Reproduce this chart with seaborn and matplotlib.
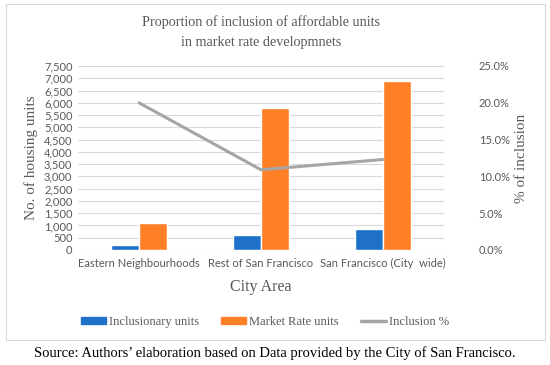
import matplotlib
matplotlib.use("Agg")
import matplotlib.pyplot as plt
import matplotlib.ticker as mticker
from matplotlib.patches import Rectangle
import pandas as pd
import seaborn as sns

areas = ["Eastern Neighbourhoods", "Rest of San Francisco", "San Francisco (City  wide)"]
inclusionary_units = [210, 630, 840]
market_rate_units = [1090, 5800, 6900]
inclusion_pct = [20.0, 10.9, 12.3]


def main():
    sns.set_theme(style="white")
    serif = "Liberation Serif"
    sans = "Lato"
    tick_col = "#595959"

    df = pd.DataFrame({
        "area": areas * 2,
        "units": inclusionary_units + market_rate_units,
        "series": ["Inclusionary units"] * 3 + ["Market Rate units"] * 3,
    })
    pct = pd.DataFrame({"area": areas, "pct": inclusion_pct})

    fig = plt.figure(figsize=(5.5, 3.65), dpi=100)
    ax = fig.add_axes([78 / 550, 1 - 250 / 365, 366 / 550, 184 / 365])

    sns.barplot(data=df, x="area", y="units", hue="series", ax=ax,
                palette=["#1F70C8", "#FF7F27"], width=0.46, saturation=1,
                legend=False)
    ax.set_ylim(0, 7500)
    ax.set_xlim(-0.5, 2.5)
    ax.yaxis.set_major_locator(mticker.MultipleLocator(500))
    ax.yaxis.set_major_formatter(mticker.FuncFormatter(lambda v, p: f"{v:,.0f}"))
    ax.grid(axis="y", color="#D9D9D9", lw=0.8)
    ax.set_axisbelow(True)
    for s in ax.spines.values():
        s.set_visible(False)
    ax.tick_params(axis="y", length=0, labelsize=8, colors=tick_col, pad=4)
    ax.tick_params(axis="x", length=0, labelsize=8, colors=tick_col, pad=6)
    for lab in ax.get_xticklabels() + ax.get_yticklabels():
        lab.set_family(sans)
    ax.set_xlabel("City Area", family=serif, fontsize=11.5, color=tick_col, labelpad=7)
    ax.set_ylabel("No. of housing units", family=serif, fontsize=11, color=tick_col, labelpad=4)

    ax2 = ax.twinx()
    sns.pointplot(data=pct, x="area", y="pct", ax=ax2, color="#A5A5A5",
                  markers="", linewidth=2.2)
    ax2.set_ylim(0, 25)
    ax2.yaxis.set_major_locator(mticker.MultipleLocator(5))
    ax2.yaxis.set_major_formatter(mticker.FuncFormatter(lambda v, p: f"{v:.1f}%"))
    for s in ax2.spines.values():
        s.set_visible(False)
    ax2.tick_params(axis="y", length=0, labelsize=8, colors=tick_col, pad=25)
    for lab in ax2.get_yticklabels():
        lab.set_family(sans)
    ax2.set_ylabel("% of inclusion", family=serif, fontsize=11, color=tick_col, labelpad=4)
    ax2.set_xlabel("")

    fig.suptitle("Proportion of inclusion of affordable units\nin market rate developmnets",
                 x=0.475, y=1 - 15 / 365, family=serif, fontsize=10.2, color=tick_col,
                 linespacing=1.75)

    handles = [Rectangle((0, 0), 1, 1, color="#1F70C8"),
               Rectangle((0, 0), 1, 1, color="#FF7F27"),
               plt.Line2D([0], [0], color="#A5A5A5", lw=2.5)]
    fig.legend(handles, ["Inclusionary units", "Market Rate units", "Inclusion %"],
               loc="center", bbox_to_anchor=(265 / 550, 1 - 322 / 365), ncol=3,
               frameon=False, prop={"family": serif, "size": 9},
               labelcolor=tick_col, handlelength=2.0, handleheight=0.5,
               handletextpad=0.2, columnspacing=1.8)

    fig.patches.append(Rectangle((6 / 550, 1 - 340 / 365), 539 / 550, 336 / 365,
                                 transform=fig.transFigure, fill=False,
                                 edgecolor="#D9D9D9", lw=0.8))
    fig.text(0.5, 1 - 353 / 365,
             "Source: Authors\u2019 elaboration based on Data provided by the City of San Francisco.",
             ha="center", va="center", family=serif, fontsize=10.5, color="black")

    fig.savefig("out.png", dpi=100)
    plt.close(fig)


if __name__ == "__main__":
    main()
